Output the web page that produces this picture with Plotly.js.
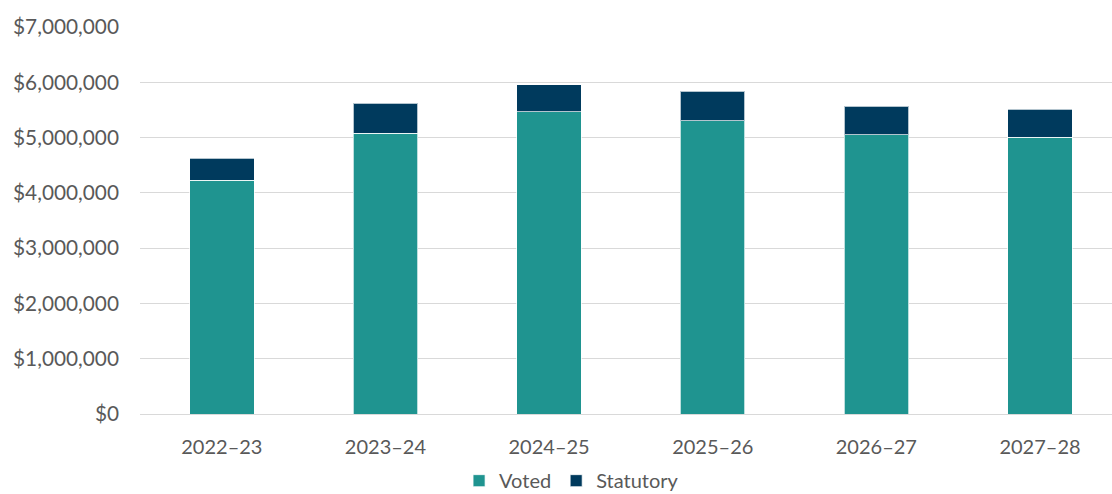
<!DOCTYPE html>
<html>
<head>
<meta charset="utf-8">
<script src="https://cdn.plot.ly/plotly-3.0.1.min.js"></script>
<style>html,body{margin:0;padding:0;background:#fff;}#chart{width:1112px;height:494px;}</style>
</head>
<body>
<div id="chart"></div>
<script>
const categories = ['2022–23', '2023–24', '2024–25', '2025–26', '2026–27', '2027–28'];
const voted = [4230000, 5080000, 5470000, 5300000, 5050000, 5010000];
const statutory = [400000, 540000, 490000, 540000, 520000, 500000];
const seriesNames = ['Voted', 'Statutory'];
const yTicks = [0, 1000000, 2000000, 3000000, 4000000, 5000000, 6000000, 7000000];
const yTickLabels = ['$0', '$1,000,000', '$2,000,000', '$3,000,000', '$4,000,000', '$5,000,000', '$6,000,000', '$7,000,000'];

const FONT = 'Lato, "Open Sans", sans-serif';
const TXT = '#595959';

const traces = [
  {type: 'bar', name: seriesNames[0], x: categories, y: voted,
   marker: {color: '#1F9490', line: {color: 'rgba(255,255,255,0.7)', width: 1}}},
  {type: 'bar', name: seriesNames[1], x: categories, y: statutory,
   marker: {color: '#003A5D', line: {color: 'rgba(255,255,255,0.7)', width: 1}}}
];

const layout = {
  width: 1112, height: 494,
  barmode: 'stack', bargap: 0.606,
  margin: {l: 140, r: 0, t: 27, b: 80, pad: 0},
  paper_bgcolor: '#fff', plot_bgcolor: '#fff',
  font: {family: FONT, size: 20, color: TXT},
  showlegend: true,
  legend: {orientation: 'h', xref: 'container', yref: 'container', x: 0.514, xanchor: 'center', y: 0.027, yanchor: 'middle',
           font: {family: FONT, size: 20, color: TXT}, itemwidth: 30, traceorder: 'normal'},
  xaxis: {type: 'category', range: [-0.5, 5.44], showgrid: false, zeroline: false, showline: false,
          ticks: '', ticklabelstandoff: 19, tickfont: {family: FONT, size: 20, color: TXT}},
  yaxis: {range: [0, 7000000], tickmode: 'array', tickvals: yTicks, ticktext: yTickLabels,
          showgrid: true, gridcolor: '#D9D9D9', gridwidth: 1, zeroline: true, zerolinecolor: '#D9D9D9', zerolinewidth: 1,
          showline: false, ticks: '', ticklabelstandoff: 20, tickfont: {family: FONT, size: 20.8, color: TXT}},
  hovermode: false
};

Plotly.newPlot('chart', traces, layout, {displayModeBar: false, staticPlot: true});
</script>
</body>
</html>
